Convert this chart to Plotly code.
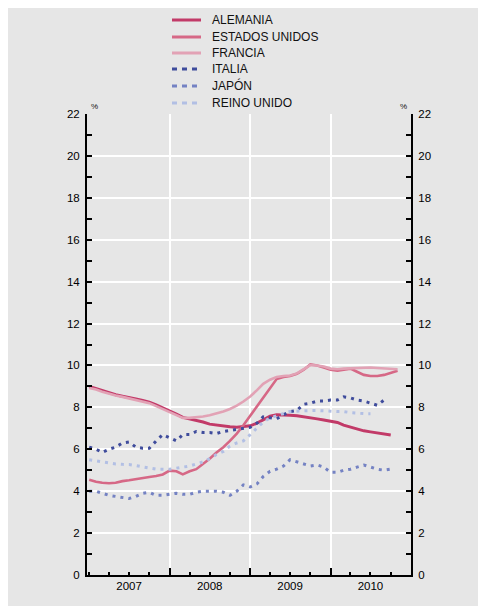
import pandas as pd
import plotly.graph_objects as go

# ---- data (monthly unemployment rate, %) ----
start = "2007-01-01"
alemania = [9.0, 8.9, 8.8, 8.68, 8.6, 8.53, 8.48, 8.4, 8.33, 8.25, 8.12, 7.98,
            7.85, 7.68, 7.52, 7.45, 7.4, 7.3, 7.2, 7.15, 7.1, 7.07, 7.05, 7.07,
            7.12, 7.25, 7.42, 7.58, 7.65, 7.65, 7.62, 7.6, 7.56, 7.5, 7.45, 7.4,
            7.35, 7.28, 7.15, 7.05, 6.95, 6.88, 6.83, 6.79, 6.74, 6.68]
estados_unidos = [4.55, 4.45, 4.4, 4.38, 4.4, 4.48, 4.52, 4.58, 4.62, 4.68, 4.72, 4.8,
                  4.98, 4.95, 4.8, 4.95, 5.05, 5.3, 5.55, 5.85, 6.1, 6.4, 6.75, 7.15,
                  7.6, 8.1, 8.5, 8.95, 9.35, 9.45, 9.5, 9.6, 9.8, 10.05, 10.0, 9.9,
                  9.8, 9.75, 9.8, 9.85, 9.7, 9.55, 9.5, 9.5, 9.55, 9.65, 9.75]
francia = [8.92, 8.85, 8.75, 8.65, 8.57, 8.5, 8.43, 8.36, 8.28, 8.2, 8.06, 7.92,
           7.76, 7.6, 7.5, 7.5, 7.52, 7.56, 7.62, 7.7, 7.8, 7.92, 8.08, 8.28,
           8.52, 8.82, 9.12, 9.32, 9.45, 9.5, 9.52, 9.62, 9.82, 10.02, 10.0, 9.95,
           9.85, 9.82, 9.85, 9.87, 9.88, 9.9, 9.9, 9.88, 9.86, 9.84, 9.82]
italia = [6.1, 6.0, 5.85, 6.0, 6.1, 6.3, 6.35, 6.1, 6.05, 6.05, 6.4, 6.7,
          6.55, 6.4, 6.7, 6.7, 6.85, 6.8, 6.8, 6.75, 6.85, 6.9, 6.95, 7.0,
          7.05, 7.25, 7.55, 7.5, 7.45, 7.65, 7.8, 7.85, 8.15, 8.2, 8.3, 8.3,
          8.35, 8.35, 8.5, 8.45, 8.35, 8.3, 8.2, 8.1, 8.35]
japon = [4.0, 4.0, 3.9, 3.8, 3.75, 3.7, 3.65, 3.75, 3.9, 3.95, 3.8, 3.8,
         3.85, 3.9, 3.85, 3.85, 3.95, 4.0, 4.0, 4.0, 3.95, 3.8, 4.0, 4.3,
         4.2, 4.35, 4.7, 4.95, 5.05, 5.2, 5.5, 5.4, 5.3, 5.2, 5.25, 5.15,
         4.9, 4.9, 5.0, 5.05, 5.15, 5.25, 5.15, 5.05, 5.0, 5.05]
reino_unido = [5.5, 5.45, 5.4, 5.33, 5.3, 5.28, 5.27, 5.22, 5.17, 5.1, 5.05, 5.05,
               5.05, 5.1, 5.15, 5.2, 5.3, 5.4, 5.55, 5.75, 5.9, 6.15, 6.3, 6.4,
               6.7, 7.0, 7.3, 7.5, 7.6, 7.7, 7.8, 7.82, 7.85, 7.85, 7.85, 7.85,
               7.82, 7.8, 7.8, 7.75, 7.72, 7.7, 7.7]

series_names = ["ALEMANIA", "ESTADOS UNIDOS", "FRANCIA", "ITALIA", "JAPÓN", "REINO UNIDO"]
year_labels = ["2007", "2008", "2009", "2010"]
year_label_pos = ["2007-07-01", "2008-07-01", "2009-07-01", "2010-07-01"]
year_bounds = ["2008-01-01", "2009-01-01", "2010-01-01"]
y_ticks = list(range(0, 23, 2))

# ---- styles ----
series_values = [alemania, estados_unidos, francia, italia, japon, reino_unido]
colors = ["#c23a68", "#d66886", "#e2a2b5", "#3f4c9c", "#7482c3", "#b2bfe4"]
solid = [True, True, True, False, False, False]
widths = [3, 2.6, 2.6, 3, 3, 3]

BG = "#e6e6e6"
OFF = 8                      # page body margin
W, H = 470, 598
L, R, T, B = 79, 67, 106, 31
PW, PH = W - L - R, H - T - B


def px(sx):
    return (sx - OFF - L) / PW


def py(sy):
    return (H - B - (sy - OFF)) / PH


fig = go.Figure()
for name, vals, col, s, w in zip(series_names, series_values, colors, solid, widths):
    xs = pd.date_range(start, periods=len(vals), freq="MS")
    fig.add_trace(go.Scatter(
        x=xs, y=vals, mode="lines", name=name, showlegend=False,
        xaxis="x" if s else "x2", yaxis="y" if s else "y2",
        line=dict(color=col, width=w, dash=None if s else "3px,5px"),
    ))

shapes = []
annotations = []

# custom legend
leg_y = [20, 37, 53, 69, 86, 103]
for i, (name, col, s) in enumerate(zip(series_names, colors, solid)):
    yy = py(leg_y[i])
    shapes.append(dict(type="line", xref="paper", yref="paper",
                       x0=px(172), x1=px(201), y0=yy, y1=yy,
                       line=dict(color=col, width=3, dash="solid" if s else "5px,5px")))
    annotations.append(dict(xref="paper", yref="paper", x=px(210), y=yy,
                            text=name, showarrow=False, xanchor="left", yanchor="middle",
                            font=dict(family="Liberation Sans", size=12, color="#111111")))

for xpx, anchor in [(89, "left"), (409, "right")]:
    annotations.append(dict(xref="paper", yref="paper", x=px(xpx), y=py(106),
                            text="%", showarrow=False, xanchor=anchor, yanchor="middle",
                            font=dict(family="Liberation Sans", size=8, color="#111111")))

tickfont = dict(family="Liberation Sans", size=11.5, color="#000000")
xrange = ["2006-12-22", "2011-01-01"]

fig.update_layout(
    width=W, height=H,
    margin=dict(l=L, r=R, t=T, b=B, pad=0),
    paper_bgcolor=BG, plot_bgcolor=BG,
    shapes=shapes, annotations=annotations,
    showlegend=False,
    xaxis=dict(
        type="date", range=xrange,
        tickmode="array", tickvals=year_bounds,
        ticks="inside", ticklen=7, tickwidth=1.5, tickcolor="black",
        showticklabels=False,
        minor=dict(dtick="M3", tick0="2007-01-01", ticks="inside", ticklen=3,
                   tickwidth=1.5, tickcolor="black", showgrid=False),
        showgrid=True, gridcolor="white", gridwidth=1.5, zeroline=False,
        showline=True, linecolor="black", linewidth=2,
    ),
    xaxis2=dict(
        type="date", range=xrange, overlaying="x", anchor="y", side="bottom",
        tickmode="array", tickvals=year_label_pos, ticktext=year_labels,
        ticks="", showgrid=False, zeroline=False, showline=False,
        tickfont=tickfont, ticklabelstandoff=2,
    ),
    yaxis=dict(
        range=[0, 22], tickmode="array", tickvals=y_ticks,
        ticks="inside", ticklen=5, tickwidth=1.5, tickcolor="black",
        minor=dict(dtick=1, tick0=0, ticks="inside", ticklen=5, tickwidth=1.5,
                   tickcolor="black", showgrid=False),
        showgrid=True, gridcolor="white", gridwidth=1.5,
        zeroline=False, showline=True, linecolor="black", linewidth=2,
        tickfont=tickfont, ticklabelstandoff=3,
    ),
    yaxis2=dict(
        range=[0, 22], overlaying="y", side="right", anchor="x",
        tickmode="array", tickvals=y_ticks,
        ticks="inside", ticklen=5, tickwidth=1.5, tickcolor="black",
        minor=dict(dtick=1, tick0=0, ticks="inside", ticklen=5, tickwidth=1.5,
                   tickcolor="black", showgrid=False),
        showgrid=False, zeroline=False, showline=True, linecolor="black", linewidth=2,
        tickfont=tickfont, ticklabelstandoff=3,
    ),
)

fig.write_html("out.html")
